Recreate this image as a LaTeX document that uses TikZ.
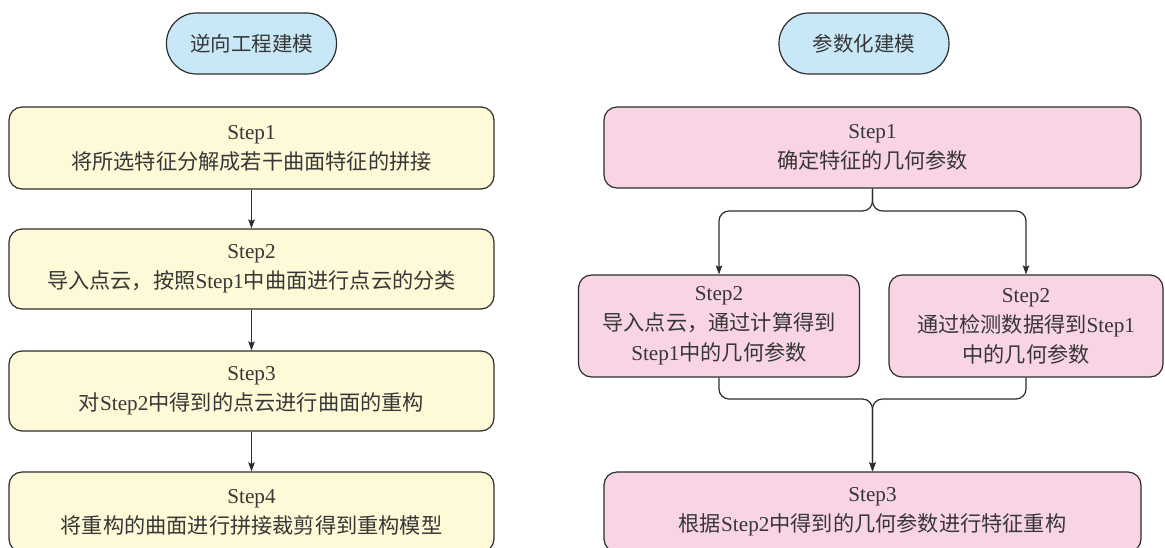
\documentclass[tikz,border=0pt]{standalone}
\usepackage{fontspec}
\setmainfont{Liberation Serif}
\newfontfamily\cjk{Noto Sans CJK SC}
\usetikzlibrary{arrows.meta}
\newcommand{\C}[1]{{\cjk #1}}
\definecolor{yfill}{RGB}{254,249,214}
\definecolor{pfill}{RGB}{248,212,228}
\definecolor{bfill}{RGB}{200,232,248}
\definecolor{edge}{RGB}{45,45,45}
\definecolor{txt}{RGB}{55,55,55}
\tikzset{
  box/.style={draw=edge, line width=1.2pt, rounded corners=13pt, inner sep=0pt,
    align=center, text=txt, font=\fontsize{21.2}{30}\selectfont},
  ybox/.style={box, fill=yfill},
  pbox/.style={box, fill=pfill},
  titlebox/.style={draw=edge, line width=1.2pt, fill=bfill, rounded corners=30pt,
    minimum width=170pt, minimum height=61pt, inner sep=0pt, text=txt,
    font=\fontsize{20.5}{24}\selectfont\cjk},
  arr/.style={draw=edge, line width=1.2pt, -{Stealth[length=9pt,width=6.5pt,inset=1.5pt]}},
  link/.style={arr, rounded corners=10pt}
}
\begin{document}
\begin{tikzpicture}[x=1pt,y=-1pt]
\useasboundingbox (0,0) rectangle (1165,547);
\clip (0,0) rectangle (1165,547);
% left column
\node[titlebox] (lt) at (251.5,43.5) {逆向工程建模};
\node[ybox, minimum width=485pt, minimum height=82pt] (l1) at (251.5,148) {Step1\\\C{将所选特征分解成若干曲面特征的拼接}};
\node[ybox, minimum width=485pt, minimum height=80pt] (l2) at (251.5,269) {Step2\\\C{导入点云，按照}Step1\C{中曲面进行点云的分类}};
\node[ybox, minimum width=485pt, minimum height=80pt] (l3) at (251.5,391) {Step3\\\C{对}Step2\C{中得到的点云进行曲面的重构}};
\node[ybox, minimum width=485pt, minimum height=80pt] (l4) at (251.5,512) {Step4\\\C{将重构的曲面进行拼接裁剪得到重构模型}};
\draw[arr] (l1) -- (l2);
\draw[arr] (l2) -- (l3);
\draw[arr] (l3) -- (l4);
% right column
\node[titlebox] (rt) at (864,43.5) {参数化建模};
\node[pbox, minimum width=537pt, minimum height=81pt] (r1) at (872.5,147.5) {Step1\\\C{确定特征的几何参数}};
\node[pbox, minimum width=281pt, minimum height=102pt] (r2a) at (719,326) {Step2\\\C{导入点云，通过计算得到}\\Step1\C{中的几何参数}};
\node[pbox, minimum width=274pt, minimum height=102pt] (r2b) at (1026,326) {Step2\\\C{通过检测数据得到}Step1\\\C{中的几何参数}};
\node[pbox, minimum width=537pt, minimum height=80pt] (r3) at (872.5,512) {Step3\\\C{根据}Step2\C{中得到的几何参数进行特征重构}};
\coordinate (fork) at (872.5,211);
\coordinate (merge) at (872.5,399);
\draw[link] (r1.south) -- (fork) -| (r2a.north);
\draw[link] (r1.south) -- (fork) -| (r2b.north);
\draw[link] (r2a.south) |- (merge) -- (r3.north);
\draw[link] (r2b.south) |- (merge) -- (r3.north);
\end{tikzpicture}
\end{document}
